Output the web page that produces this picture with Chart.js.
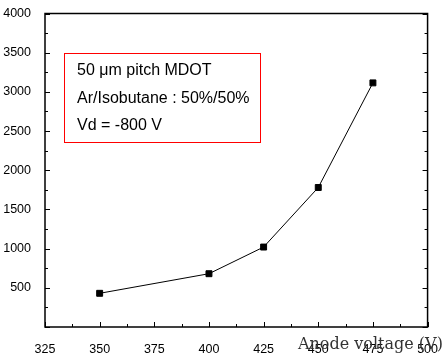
<!DOCTYPE html>
<html><head><meta charset="utf-8">
<script src="https://cdn.jsdelivr.net/npm/chart.js@4/dist/chart.umd.min.js"></script>
<style>html,body{margin:0;padding:0;background:#fff}#w{width:445px;height:356px;position:relative}</style>
</head><body><div id="w"><canvas id="c"></canvas></div>
<script>
const anodeVoltage = [350, 400, 425, 450, 475];
const gain = [430, 680, 1020, 1780, 3115];
const xTicks = [325, 350, 375, 400, 425, 450, 475, 500];
const yTicks = [500, 1000, 1500, 2000, 2500, 3000, 3500, 4000];
const boxLines = ['50 \u03bcm pitch MDOT', 'Ar/Isobutane : 50%/50%', 'Vd = -800 V'];
const xTitle = 'Anode voltage (V)';

const frame = {
  id: 'frame',
  afterDraw(chart) {
    const {ctx, chartArea: a, scales: {x, y}} = chart;
    ctx.save();
    ctx.strokeStyle = '#000';
    ctx.lineWidth = 1.5;
    ctx.strokeRect(a.left, a.top, a.right - a.left, a.bottom - a.top);
    ctx.lineWidth = 1;
    for (let v = 325; v <= 500; v += 12.5) {
      const px = Math.round(x.getPixelForValue(v)) + 0.5;
      const len = (v % 25 === 0) ? 5 : 3;
      ctx.beginPath(); ctx.moveTo(px, a.bottom); ctx.lineTo(px, a.bottom - len); ctx.stroke();
    }
    for (let v = 0; v <= 4000; v += 250) {
      const py = Math.round(y.getPixelForValue(v)) + 0.5;
      const len = (v % 500 === 0) ? 5 : 3;
      ctx.beginPath(); ctx.moveTo(a.left, py); ctx.lineTo(a.left + len, py); ctx.stroke();
      ctx.beginPath(); ctx.moveTo(a.right, py); ctx.lineTo(a.right - len, py); ctx.stroke();
    }
    ctx.strokeStyle = '#ff0000';
    ctx.lineWidth = 1;
    ctx.strokeRect(64.5, 53.5, 196, 89);
    ctx.fillStyle = '#000';
    ctx.font = '16px "Liberation Sans", Arial, sans-serif';
    ctx.textBaseline = 'middle';
    ctx.textAlign = 'left';
    boxLines.forEach((t, i) => ctx.fillText(t, 77, 71 + i * 27.3));
    ctx.font = '16px "DejaVu Serif", serif';
    ctx.fillStyle = '#333';
    ctx.fillText(xTitle, 298, 345);
    ctx.restore();
  }
};

new Chart(document.getElementById('c'), {
  type: 'scatter',
  data: {
    datasets: [{
      data: anodeVoltage.map((v, i) => ({x: v, y: gain[i]})),
      showLine: true,
      borderColor: '#000',
      borderWidth: 1,
      backgroundColor: '#000',
      pointStyle: 'rect',
      pointRadius: 4.2,
      pointHoverRadius: 4.2,
    }]
  },
  options: {
    responsive: true,
    maintainAspectRatio: false,
    animation: false,
    events: [],
    layout: {padding: {top: 13, right: 11, left: 0, bottom: 0}},
    plugins: {legend: {display: false}, tooltip: {enabled: false}},
    scales: {
      x: {
        type: 'linear', min: 325, max: 500,
        afterBuildTicks: s => { s.ticks = xTicks.map(v => ({value: v})); },
        afterFit: s => { s.height = 29; },
        grid: {display: false},
        border: {display: false},
        ticks: {color: '#000', callback: v => String(v), font: {family: '"Liberation Sans", Arial, sans-serif', size: 12.5}, padding: 7, maxRotation: 0, autoSkip: false}
      },
      y: {
        type: 'linear', min: 0, max: 4000,
        afterBuildTicks: s => { s.ticks = yTicks.map(v => ({value: v})); },
        afterFit: s => { s.width = 45; },
        grid: {display: false},
        border: {display: false},
        ticks: {color: '#000', callback: v => String(v), font: {family: '"Liberation Sans", Arial, sans-serif', size: 12.5}, padding: 6}
      }
    }
  },
  plugins: [frame]
});
</script></body></html>
